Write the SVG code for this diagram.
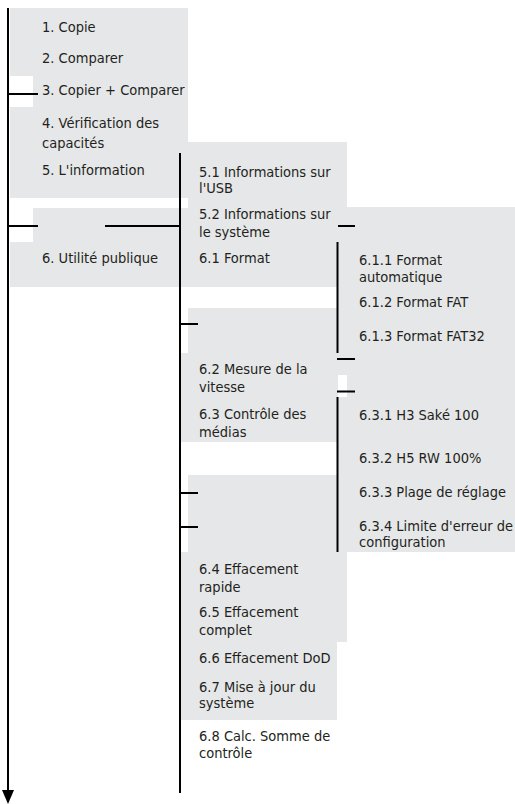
<svg xmlns="http://www.w3.org/2000/svg" width="515" height="804" viewBox="0 0 515 804">
<style>
.bg{fill:#e6e7e8}
.wh{fill:#ffffff}
.ln{stroke:#000;stroke-width:2;fill:none}
text{font-family:"DejaVu Sans Condensed","DejaVu Sans","Liberation Sans",sans-serif;font-stretch:condensed;font-size:14.5px;fill:#231f20}
</style>
<g id="backgrounds">
<rect class="bg" x="10" y="8" width="178" height="190"/>
<rect class="wh" x="10" y="76" width="23" height="31"/>
<rect class="bg" x="188" y="142" width="159" height="100"/>
<rect class="bg" x="33" y="208" width="155" height="34"/>
<rect class="bg" x="337" y="207" width="178" height="345"/>
<rect class="wh" x="338" y="375" width="9" height="22"/>
<rect class="bg" x="10" y="242" width="327" height="45"/>
<rect class="bg" x="188" y="308" width="149" height="45"/>
<rect class="bg" x="180" y="353" width="157" height="89"/>
<rect class="bg" x="188" y="475" width="149" height="77"/>
<rect class="bg" x="180" y="552" width="167" height="90"/>
<rect class="bg" x="180" y="642" width="157" height="78"/>
</g>
<g id="connectors">
<line class="ln" x1="8" y1="8" x2="8" y2="791"/>
<polygon points="2,790 14,790 8,804" fill="#000"/>
<line class="ln" x1="8" y1="94" x2="38" y2="94"/>
<line class="ln" x1="8" y1="226" x2="38" y2="226"/>
<line class="ln" x1="105" y1="226" x2="180" y2="226"/>
<line class="ln" x1="338" y1="226" x2="355" y2="226"/>
<line class="ln" x1="180" y1="153" x2="180" y2="793"/>
<line class="ln" x1="337.5" y1="242" x2="337.5" y2="353"/>
<line class="ln" x1="337" y1="359" x2="355" y2="359"/>
<line class="ln" x1="337" y1="391.5" x2="355" y2="391.5"/>
<line class="ln" x1="337.5" y1="397" x2="337.5" y2="552"/>
<line class="ln" x1="180" y1="324" x2="198" y2="324"/>
<line class="ln" x1="180" y1="493" x2="198" y2="493"/>
<line class="ln" x1="180" y1="527" x2="198" y2="527"/>
</g>
<g id="n1"><text x="42" y="31.5">1. Copie</text></g>
<g id="n2"><text x="42" y="63">2. Comparer</text></g>
<g id="n3"><text x="42" y="95">3. Copier + Comparer</text></g>
<g id="n4"><text x="42" y="128">4. Vérification des</text><text x="42" y="148">capacités</text></g>
<g id="n5"><text x="42" y="175">5. L'information</text></g>
<g id="n6"><text x="42" y="263">6. Utilité publique</text></g>
<g id="n5-1"><text x="199" y="176.5">5.1 Informations sur</text><text x="199" y="192.5">l'USB</text></g>
<g id="n5-2"><text x="199" y="219.3">5.2 Informations sur</text><text x="199" y="236.5">le système</text></g>
<g id="n6-1"><text x="199" y="262.7">6.1 Format</text></g>
<g id="n6-2"><text x="199" y="374.3">6.2 Mesure de la</text><text x="199" y="391.7">vitesse</text></g>
<g id="n6-3"><text x="199" y="419.3">6.3 Contrôle des</text><text x="199" y="436.7">médias</text></g>
<g id="n6-4"><text x="199" y="574">6.4 Effacement</text><text x="199" y="591.7">rapide</text></g>
<g id="n6-5"><text x="199" y="617">6.5 Effacement</text><text x="199" y="635">complet</text></g>
<g id="n6-6"><text x="199" y="663">6.6 Effacement DoD</text></g>
<g id="n6-7"><text x="199" y="691.7">6.7 Mise à jour du</text><text x="199" y="708">système</text></g>
<g id="n6-8"><text x="199" y="741">6.8 Calc. Somme de</text><text x="199" y="758">contrôle</text></g>
<g id="n6-1-1"><text x="359" y="265">6.1.1 Format</text><text x="359" y="281.7">automatique</text></g>
<g id="n6-1-2"><text x="359" y="307.3">6.1.2 Format FAT</text></g>
<g id="n6-1-3"><text x="359" y="340.7">6.1.3 Format FAT32</text></g>
<g id="n6-3-1"><text x="359" y="420">6.3.1 H3 Saké 100</text></g>
<g id="n6-3-2"><text x="359" y="463">6.3.2 H5 RW 100%</text></g>
<g id="n6-3-3"><text x="359" y="497">6.3.3 Plage de réglage</text></g>
<g id="n6-3-4"><text x="359" y="531">6.3.4 Limite d'erreur de</text><text x="359" y="547">configuration</text></g>
</svg>
